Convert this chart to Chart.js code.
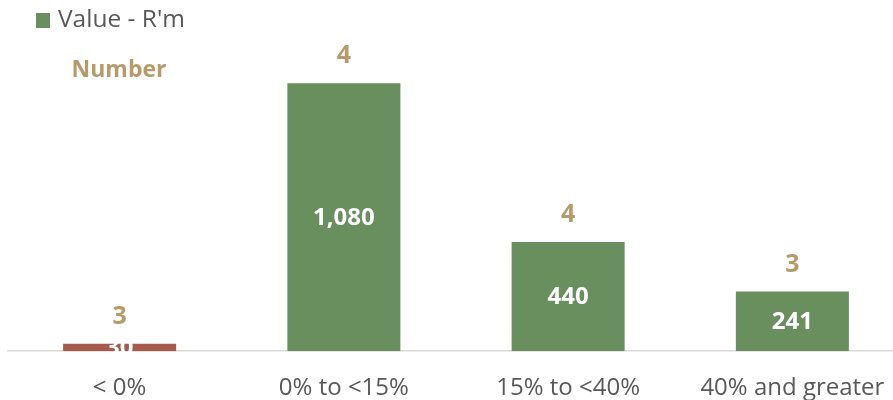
<!DOCTYPE html>
<html>
<head>
<meta charset="utf-8">
<script src="https://cdn.jsdelivr.net/npm/chart.js@4.4.0/dist/chart.umd.min.js"></script>
<style>
  html, body { margin: 0; padding: 0; background: #fff; }
  #wrap { width: 893px; height: 400px; overflow: hidden; position: relative; }
  canvas { display: block; }
</style>
</head>
<body>
<div id="wrap"><canvas id="c" width="910" height="400"></canvas></div>
<script>
const categories = ['< 0%', '0% to <15%', '15% to <40%', '40% and greater'];
const valuesRm = [30, 1080, 440, 241];
const valueLabels = ['30', '1,080', '440', '241'];
const numbers = [3, 4, 4, 3];
const barColors = ['#A65A4B', '#6A8F5E', '#6A8F5E', '#6A8F5E'];

const GREEN = '#6A8F5E';
const TAN = '#B89A6A';
const GREY = '#595959';
const FONT = "'Open Sans', sans-serif";

const labelPlugin = {
  id: 'labels',
  afterDatasetsDraw(chart) {
    const ctx = chart.ctx;
    const meta = chart.getDatasetMeta(0);
    ctx.save();
    ctx.textAlign = 'center';
    ctx.textBaseline = 'middle';
    meta.data.forEach((bar, i) => {
      const top = Math.min(bar.y, bar.base);
      const bottom = Math.max(bar.y, bar.base);
      ctx.fillStyle = '#FFFFFF';
      ctx.font = "bold 24px " + FONT;
      ctx.fillText(valueLabels[i], bar.x, (top + bottom) / 2 + 1);
      ctx.fillStyle = TAN;
      ctx.font = "bold 25px " + FONT;
      ctx.fillText(String(numbers[i]), bar.x, top - 27);
    });
    ctx.restore();
  },
  afterDraw(chart) {
    const ctx = chart.ctx;
    ctx.save();
    ctx.fillStyle = GREEN;
    ctx.fillRect(36, 13, 14, 15);
    ctx.fillStyle = GREY;
    ctx.font = "24.5px " + FONT;
    ctx.textBaseline = 'middle';
    ctx.textAlign = 'left';
    ctx.fillText("Value - R'm", 58, 20);
    ctx.fillStyle = TAN;
    ctx.font = "bold 23px " + FONT;
    ctx.textAlign = 'center';
    ctx.fillText('Number', 119, 70);
    ctx.restore();
  }
};

new Chart(document.getElementById('c'), {
  type: 'bar',
  data: {
    labels: categories,
    datasets: [{
      label: "Value - R'm",
      data: valuesRm,
      backgroundColor: barColors,
      borderWidth: 0,
      barPercentage: 1.0,
      categoryPercentage: 0.504
    }]
  },
  options: {
    responsive: false,
    animation: false,
    devicePixelRatio: 1,
    layout: { padding: { left: 7.5, right: 5.5, top: 4, bottom: -26 } },
    plugins: { legend: { display: false }, tooltip: { enabled: false } },
    scales: {
      x: {
        grid: { display: false, drawTicks: false },
        border: { display: true, color: '#D9D9D9', width: 1.5 },
        ticks: { color: GREY, font: { family: FONT, size: 24 }, padding: 23 }
      },
      y: {
        display: false,
        min: 0,
        max: 1400
      }
    }
  },
  plugins: [labelPlugin]
});
</script>
</body>
</html>
